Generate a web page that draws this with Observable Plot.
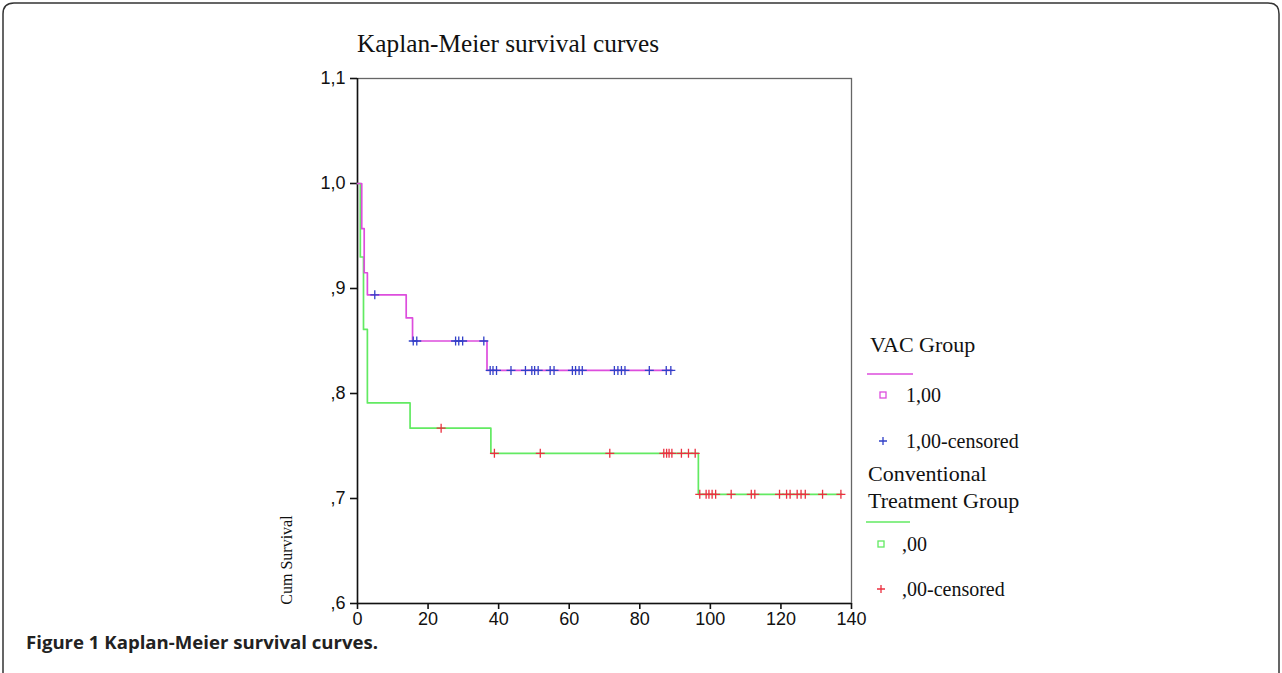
<!DOCTYPE html>
<html><head><meta charset="utf-8">
<script src="https://cdn.jsdelivr.net/npm/d3@7"></script>
<script src="https://cdn.jsdelivr.net/npm/@observablehq/plot@0.6"></script>
<style>
body{margin:0;background:#fff;}
#wrap{position:relative;width:1282px;height:673px;overflow:hidden;background:#fff;}
#wrap svg{position:absolute;left:0;top:0;}
</style></head>
<body><div id="wrap"></div>
<script>
// ---- data ----
const vacEventTimes = [1.2, 1.9, 2.8, 13.8, 15.6, 36.7];
const vacEventSurv  = [0.957, 0.915, 0.894, 0.872, 0.850, 0.822];
const vacCensored   = [4.9, 15.8, 16.8, 27.8, 28.7, 29.8, 35.8, 37.6, 38.4, 39.4, 43.5, 47.6, 49.4, 50.2, 51.2,
                       54.6, 55.7, 60.9, 61.8, 62.8, 63.7, 72.8, 73.8, 74.8, 75.8, 82.7, 87.5, 88.8];
const ctEventTimes  = [0.8, 1.7, 2.8, 14.9, 37.8, 96.6];
const ctEventSurv   = [0.930, 0.861, 0.791, 0.767, 0.743, 0.704];
const ctCensored    = [23.7, 38.8, 51.8, 71.5, 86.8, 87.6, 88.3, 89.1, 91.8, 93.8, 95.7, 97.0, 98.8, 99.6,
                       100.5, 101.5, 105.9, 111.6, 112.6, 119.6, 121.6, 122.6, 124.6, 125.7, 126.9, 131.8, 137.0];
const xTicks = [0, 20, 40, 60, 80, 100, 120, 140];
const yTicks = [0.6, 0.7, 0.8, 0.9, 1.0, 1.1];
const yTickLabels = [",6", ",7", ",8", ",9", "1,0", "1,1"];
const titleText = "Kaplan-Meier survival curves";
const yLabel = "Cum Survival";
const captionText = "Figure 1 Kaplan-Meier survival curves.";
const groupNames = ["VAC Group", "Conventional|Treatment Group"];
const groupItems = [["1,00", "1,00-censored"], [",00", ",00-censored"]];

// ---- helpers ----
function survAt(times, surv, t) { let s = 1; times.forEach((tt, i) => { if (tt <= t) s = surv[i]; }); return s; }
function stepPts(times, surv, end) {
  const pts = [{t: 0, s: 1}];
  times.forEach((t, i) => pts.push({t, s: surv[i]}));
  pts.push({t: end, s: surv[surv.length - 1]});
  return pts;
}
const vacLine = stepPts(vacEventTimes, vacEventSurv, d3.max(vacCensored) + 0.4);
const ctLine = stepPts(ctEventTimes, ctEventSurv, d3.max(ctCensored) + 0.3);
const vacCens = vacCensored.map(t => ({t, s: survAt(vacEventTimes, vacEventSurv, t)}));
const ctCens = ctCensored.map(t => ({t, s: survAt(ctEventTimes, ctEventSurv, t)}));

const MAG = "#dd4ddd", GRN = "#62ea62", BLU = "#3140c8", RED = "#ec3040";
const W = 1282, H = 673;

const plot = Plot.plot({
  width: W, height: H,
  marginLeft: 357, marginRight: 431, marginTop: 78, marginBottom: 70,
  style: {fontFamily: "'Liberation Sans', Arial, sans-serif", fontSize: "18px", color: "#111", background: "transparent"},
  x: {domain: [0, 140]},
  y: {domain: [0.6, 1.1]},
  marks: [
    Plot.frame({stroke: "#666", strokeWidth: 1.3}),
    Plot.axisX({ticks: xTicks, tickSize: 6, tickPadding: 3, label: null, fontSize: 18, tickFormat: d => String(d), stroke: "#111", strokeWidth: 1.6}),
    Plot.axisY({ticks: yTicks, tickSize: 7, tickPadding: 5, label: null, fontSize: 18,
      tickFormat: d => yTickLabels[yTicks.findIndex(v => Math.abs(v - d) < 1e-9)], stroke: "#111", strokeWidth: 1.6}),
    Plot.ruleX([0], {stroke: "#111", strokeWidth: 1.5}),
    Plot.ruleY([0.6], {stroke: "#111", strokeWidth: 1.5}),
    Plot.line(ctLine, {x: "t", y: "s", curve: "step-after", stroke: GRN, strokeWidth: 1.7}),
    Plot.line(vacLine, {x: "t", y: "s", curve: "step-after", stroke: MAG, strokeWidth: 1.7}),
    Plot.dot(vacCens, {x: "t", y: "s", symbol: "plus", r: 3, stroke: BLU, strokeWidth: 1.3}),
    Plot.dot(ctCens, {x: "t", y: "s", symbol: "plus", r: 3, stroke: RED, strokeWidth: 1.3})
  ]
});
const wrap = document.getElementById("wrap");
wrap.appendChild(plot);

// ---- overlay: title, y label, legend, caption, figure border ----
const svg = d3.select(wrap).append("svg").attr("width", W).attr("height", H);
const serif = "'Liberation Serif', 'Times New Roman', serif";
svg.append("path")
  .attr("d", `M3,${H+5} L3,14 Q3,3 14,3 L1268,3 Q1279,3 1279,14 L1279,${H+5}`)
  .attr("fill", "none").attr("stroke", "#333").attr("stroke-width", 1.5);
svg.append("text").attr("x", 357).attr("y", 43).attr("dominant-baseline", "central")
  .attr("font-family", serif).attr("font-size", 25.3).attr("fill", "#111").text(titleText);
svg.append("text").attr("transform", "translate(286,560) rotate(-90)").attr("text-anchor", "middle")
  .attr("dominant-baseline", "central").attr("font-family", serif).attr("font-size", 16).attr("fill", "#111").text(yLabel);
svg.append("text").attr("x", 26).attr("y", 641).attr("dominant-baseline", "central")
  .attr("font-family", "'Open Sans', sans-serif").attr("font-weight", 700).attr("font-size", 18.6).attr("fill", "#222").text(captionText);

// legend
const lg = svg.append("g").attr("font-family", serif).attr("fill", "#111");
function header(lines, x, y) {
  lines.split("|").forEach((l, i) => lg.append("text").attr("x", x).attr("y", y + i * 27)
    .attr("dominant-baseline", "central").attr("font-size", 22).text(l));
}
function item(txt, x, y) {
  lg.append("text").attr("x", x).attr("y", y).attr("dominant-baseline", "central").attr("font-size", 20).text(txt);
}
header(groupNames[0], 870, 344);
lg.append("line").attr("x1", 867).attr("x2", 913).attr("y1", 374).attr("y2", 374).attr("stroke", MAG).attr("stroke-width", 1.5);
lg.append("rect").attr("x", 880).attr("y", 392).attr("width", 6).attr("height", 6).attr("fill", "none").attr("stroke", MAG).attr("stroke-width", 1.3);
item(groupItems[0][0], 906, 395);
lg.append("path").attr("d", "M879,441h8M883,437v8").attr("stroke", BLU).attr("stroke-width", 1.3);
item(groupItems[0][1], 906, 441);
header(groupNames[1], 868, 473);
lg.append("line").attr("x1", 866).attr("x2", 910).attr("y1", 522).attr("y2", 522).attr("stroke", GRN).attr("stroke-width", 1.5);
lg.append("rect").attr("x", 878).attr("y", 541).attr("width", 6).attr("height", 6).attr("fill", "none").attr("stroke", GRN).attr("stroke-width", 1.3);
item(groupItems[1][0], 902, 544);
lg.append("path").attr("d", "M877,589h8M881,585v8").attr("stroke", RED).attr("stroke-width", 1.3);
item(groupItems[1][1], 902, 589);
</script>
</body></html>
